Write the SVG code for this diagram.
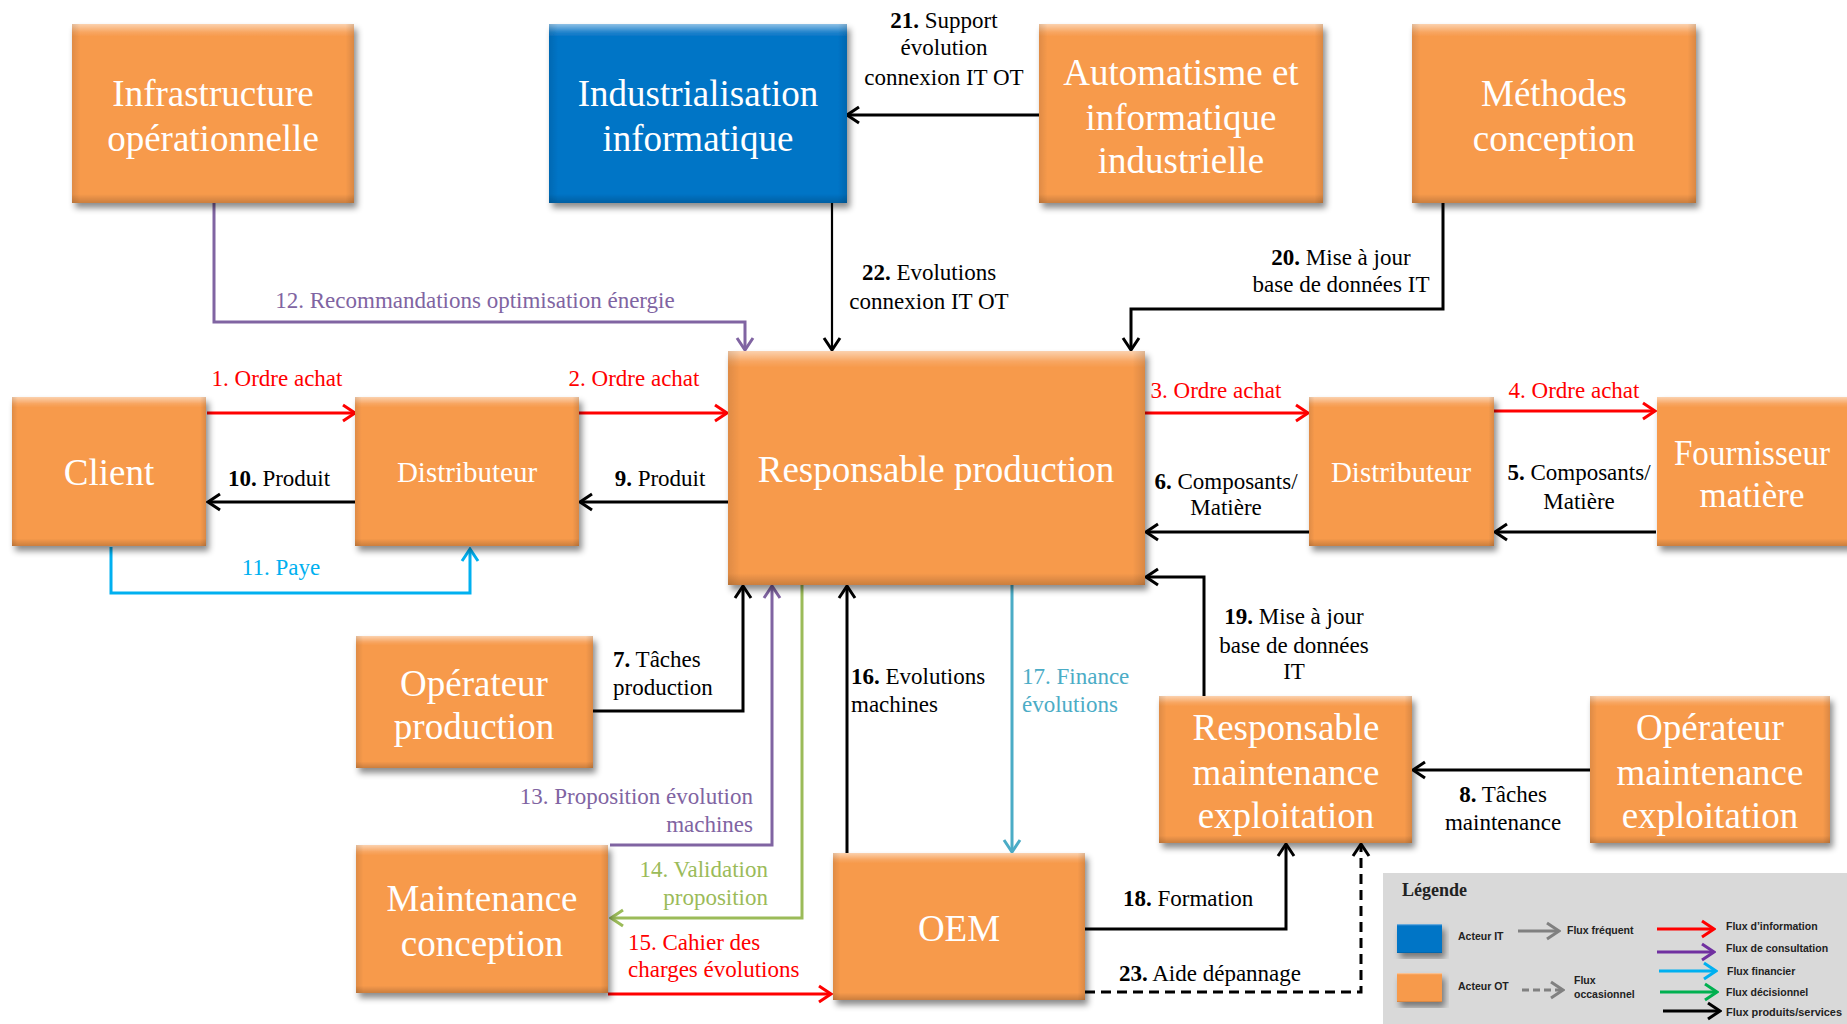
<svg xmlns="http://www.w3.org/2000/svg" width="1847" height="1024" viewBox="0 0 1847 1024">
<style>
.nt{font-family:"Liberation Serif","Times New Roman",serif;fill:#fff;font-size:37px;text-anchor:middle}
.lb{font-family:"Liberation Serif","Times New Roman",serif;font-size:23px;fill:#000}
.c{text-anchor:middle}
.r{text-anchor:end}
.n{font-weight:bold}
.lg{font-family:"Liberation Sans",Arial,sans-serif;font-size:10.5px;font-weight:bold;fill:#222}
.ln{fill:none;stroke-width:3}
.k{stroke:#000}
.red{stroke:#FF0000}
.pur{stroke:#8064A2}
.blu{stroke:#00B0F0}
.grn{stroke:#9BBB59}
.tea{stroke:#4BACC6}
</style>
<defs>
<filter id="sh" x="-10%" y="-10%" width="125%" height="130%"><feDropShadow dx="3" dy="5" stdDeviation="3" flood-color="#000" flood-opacity="0.45"/></filter>
<linearGradient id="bev" x1="0" y1="0" x2="0" y2="1">
<stop offset="0" stop-color="#fff" stop-opacity="0.55"/>
<stop offset="0.045" stop-color="#fff" stop-opacity="0.12"/>
<stop offset="0.07" stop-color="#fff" stop-opacity="0"/>
<stop offset="0.95" stop-color="#000" stop-opacity="0"/>
<stop offset="1" stop-color="#000" stop-opacity="0.18"/>
</linearGradient>
<linearGradient id="bevh" x1="0" y1="0" x2="1" y2="0">
<stop offset="0" stop-color="#000" stop-opacity="0.1"/>
<stop offset="0.03" stop-color="#000" stop-opacity="0"/>
<stop offset="0.97" stop-color="#000" stop-opacity="0"/>
<stop offset="1" stop-color="#000" stop-opacity="0.12"/>
</linearGradient>
<marker id="mk" viewBox="0 0 16 20" refX="14" refY="10" markerWidth="16" markerHeight="20" orient="auto" markerUnits="userSpaceOnUse"><path d="M2,2 L14,10 L2,18" fill="none" stroke="#000" stroke-width="3"/></marker>
<marker id="mr" viewBox="0 0 16 20" refX="14" refY="10" markerWidth="16" markerHeight="20" orient="auto" markerUnits="userSpaceOnUse"><path d="M2,2 L14,10 L2,18" fill="none" stroke="#FF0000" stroke-width="3"/></marker>
<marker id="mp" viewBox="0 0 16 20" refX="14" refY="10" markerWidth="16" markerHeight="20" orient="auto" markerUnits="userSpaceOnUse"><path d="M2,2 L14,10 L2,18" fill="none" stroke="#8064A2" stroke-width="3"/></marker>
<marker id="mb" viewBox="0 0 16 20" refX="14" refY="10" markerWidth="16" markerHeight="20" orient="auto" markerUnits="userSpaceOnUse"><path d="M2,2 L14,10 L2,18" fill="none" stroke="#00B0F0" stroke-width="3"/></marker>
<marker id="mg" viewBox="0 0 16 20" refX="14" refY="10" markerWidth="16" markerHeight="20" orient="auto" markerUnits="userSpaceOnUse"><path d="M2,2 L14,10 L2,18" fill="none" stroke="#9BBB59" stroke-width="3"/></marker>
<marker id="mt" viewBox="0 0 16 20" refX="14" refY="10" markerWidth="16" markerHeight="20" orient="auto" markerUnits="userSpaceOnUse"><path d="M2,2 L14,10 L2,18" fill="none" stroke="#4BACC6" stroke-width="3"/></marker>
<marker id="mgr" viewBox="0 0 16 20" refX="14" refY="10" markerWidth="16" markerHeight="20" orient="auto" markerUnits="userSpaceOnUse"><path d="M2,2 L14,10 L2,18" fill="none" stroke="#808080" stroke-width="3"/></marker>
<marker id="lr" viewBox="0 0 16 20" refX="14" refY="10" markerWidth="16" markerHeight="20" orient="auto" markerUnits="userSpaceOnUse"><path d="M2,2 L14,10 L2,18" fill="none" stroke="#FF0000" stroke-width="3"/></marker>
<marker id="lp" viewBox="0 0 16 20" refX="14" refY="10" markerWidth="16" markerHeight="20" orient="auto" markerUnits="userSpaceOnUse"><path d="M2,2 L14,10 L2,18" fill="none" stroke="#7030A0" stroke-width="3"/></marker>
<marker id="lb" viewBox="0 0 16 20" refX="14" refY="10" markerWidth="16" markerHeight="20" orient="auto" markerUnits="userSpaceOnUse"><path d="M2,2 L14,10 L2,18" fill="none" stroke="#00B0F0" stroke-width="3"/></marker>
<marker id="lg" viewBox="0 0 16 20" refX="14" refY="10" markerWidth="16" markerHeight="20" orient="auto" markerUnits="userSpaceOnUse"><path d="M2,2 L14,10 L2,18" fill="none" stroke="#00B050" stroke-width="3"/></marker>
</defs>
<rect width="1847" height="1024" fill="#fff"/>

<g id="connectors">
<path class="ln red" d="M207,413 H355" marker-end="url(#mr)"/>
<path class="ln red" d="M579,413 H727" marker-end="url(#mr)"/>
<path class="ln red" d="M1145,413 H1308" marker-end="url(#mr)"/>
<path class="ln red" d="M1494,411 H1655" marker-end="url(#mr)"/>
<path class="ln k" d="M1656,532 H1495" marker-end="url(#mk)"/>
<path class="ln k" d="M1309,532 H1146" marker-end="url(#mk)"/>
<path class="ln k" d="M593,711 H743 V586" marker-end="url(#mk)"/>
<path class="ln k" d="M1590,770 H1413" marker-end="url(#mk)"/>
<path class="ln k" d="M728,502 H580" marker-end="url(#mk)"/>
<path class="ln k" d="M355,502 H208" marker-end="url(#mk)"/>
<path class="ln blu" d="M111,547 V593 H470 V549" marker-end="url(#mb)"/>
<path class="ln pur" d="M214,203 V322 H745 V350" marker-end="url(#mp)"/>
<path class="ln pur" d="M610,845 H772 V586" marker-end="url(#mp)"/>
<path class="ln grn" d="M802,585 V918 H611" marker-end="url(#mg)"/>
<path class="ln red" d="M608,994 H831" marker-end="url(#mr)"/>
<path class="ln k" d="M847,853 V586" marker-end="url(#mk)"/>
<path class="ln tea" d="M1012,585 V852" marker-end="url(#mt)"/>
<path class="ln k" d="M1085,929 H1286 V844" marker-end="url(#mk)"/>
<path class="ln k" d="M1204,696 V577 H1146" marker-end="url(#mk)"/>
<path class="ln k" d="M1443,203 V309 H1131 V350" marker-end="url(#mk)"/>
<path class="ln k" d="M1039,115 H847" marker-end="url(#mk)"/>
<path class="k" fill="none" stroke-width="2.2" d="M832,203 V350" marker-end="url(#mk)"/>
<path class="ln k" stroke-dasharray="10,6" d="M1085,992 H1361 V844" marker-end="url(#mk)"/>
</g>

<g id="labels">
<text class="lb c" x="277" y="386" style="fill:#FF0000">1. Ordre achat</text>
<text class="lb c" x="634" y="386" style="fill:#FF0000">2. Ordre achat</text>
<text class="lb c" x="1216" y="398" style="fill:#FF0000">3. Ordre achat</text>
<text class="lb c" x="1574" y="398" style="fill:#FF0000">4. Ordre achat</text>
<text class="lb c" x="279" y="486"><tspan class="n">10.</tspan> Produit</text>
<text class="lb c" x="660" y="486"><tspan class="n">9.</tspan> Produit</text>
<text class="lb c" x="281" y="575" style="fill:#00B0F0">11. Paye</text>
<text class="lb c" x="475" y="308" style="fill:#8064A2">12. Recommandations optimisation énergie</text>
<text class="lb c" x="1226" y="489"><tspan class="n">6.</tspan> Composants/</text>
<text class="lb c" x="1226" y="515">Matière</text>
<text class="lb c" x="1579" y="480"><tspan class="n">5.</tspan> Composants/</text>
<text class="lb c" x="1579" y="509">Matière</text>
<text class="lb" x="613" y="667"><tspan class="n">7.</tspan> Tâches</text>
<text class="lb" x="613" y="695">production</text>
<text class="lb r" x="753" y="804" style="fill:#8064A2">13. Proposition évolution</text>
<text class="lb r" x="753" y="832" style="fill:#8064A2">machines</text>
<text class="lb r" x="768" y="877" style="fill:#9BBB59">14. Validation</text>
<text class="lb r" x="768" y="905" style="fill:#9BBB59">proposition</text>
<text class="lb" x="628" y="950" style="fill:#FF0000">15. Cahier des</text>
<text class="lb" x="628" y="977" style="fill:#FF0000">charges évolutions</text>
<text class="lb" x="851" y="684"><tspan class="n">16.</tspan> Evolutions</text>
<text class="lb" x="851" y="712">machines</text>
<text class="lb" x="1022" y="684" style="fill:#4BACC6">17. Finance</text>
<text class="lb" x="1022" y="712" style="fill:#4BACC6">évolutions</text>
<text class="lb" x="1123" y="906"><tspan class="n">18.</tspan> Formation</text>
<text class="lb" x="1119" y="981"><tspan class="n">23.</tspan> Aide dépannage</text>
<text class="lb c" x="1294" y="624"><tspan class="n">19.</tspan>  Mise à jour</text>
<text class="lb c" x="1294" y="653">base de données</text>
<text class="lb c" x="1294" y="679">IT</text>
<text class="lb c" x="1503" y="802"><tspan class="n">8.</tspan> Tâches</text>
<text class="lb c" x="1503" y="830">maintenance</text>
<text class="lb c" x="1341" y="265"><tspan class="n">20.</tspan> Mise à jour</text>
<text class="lb c" x="1341" y="292">base de données IT</text>
<text class="lb c" x="944" y="28"><tspan class="n">21.</tspan> Support</text>
<text class="lb c" x="944" y="55">évolution</text>
<text class="lb c" x="944" y="85">connexion IT OT</text>
<text class="lb c" x="929" y="280"><tspan class="n">22.</tspan> Evolutions</text>
<text class="lb c" x="929" y="309">connexion IT OT</text>
</g>

<g id="infra"><g filter="url(#sh)"><rect x="72" y="24" width="282" height="179" fill="#F79A4C"/><rect x="72" y="24" width="282" height="179" fill="url(#bev)"/><rect x="72" y="24" width="282" height="179" fill="url(#bevh)"/></g>
<text class="nt" x="213" y="106">Infrastructure</text><text class="nt" x="213" y="151">opérationnelle</text></g>

<g id="indus"><g filter="url(#sh)"><rect x="549" y="24" width="298" height="179" fill="#0574C6"/><rect x="549" y="24" width="298" height="179" fill="url(#bev)"/><rect x="549" y="24" width="298" height="179" fill="url(#bevh)"/></g>
<text class="nt" x="698" y="106">Industrialisation</text><text class="nt" x="698" y="151">informatique</text></g>

<g id="auto"><g filter="url(#sh)"><rect x="1039" y="24" width="284" height="179" fill="#F79A4C"/><rect x="1039" y="24" width="284" height="179" fill="url(#bev)"/><rect x="1039" y="24" width="284" height="179" fill="url(#bevh)"/></g>
<text class="nt" x="1181" y="85">Automatisme et</text><text class="nt" x="1181" y="130">informatique</text><text class="nt" x="1181" y="173">industrielle</text></g>

<g id="methodes"><g filter="url(#sh)"><rect x="1412" y="24" width="284" height="179" fill="#F79A4C"/><rect x="1412" y="24" width="284" height="179" fill="url(#bev)"/><rect x="1412" y="24" width="284" height="179" fill="url(#bevh)"/></g>
<text class="nt" x="1554" y="106">Méthodes</text><text class="nt" x="1554" y="151">conception</text></g>

<g id="client"><g filter="url(#sh)"><rect x="12" y="397" width="194" height="149" fill="#F79A4C"/><rect x="12" y="397" width="194" height="149" fill="url(#bev)"/><rect x="12" y="397" width="194" height="149" fill="url(#bevh)"/></g>
<text class="nt" x="109" y="485">Client</text></g>

<g id="distrib1"><g filter="url(#sh)"><rect x="355" y="397" width="224" height="149" fill="#F79A4C"/><rect x="355" y="397" width="224" height="149" fill="url(#bev)"/><rect x="355" y="397" width="224" height="149" fill="url(#bevh)"/></g>
<text class="nt" x="467" y="482" style="font-size:29px">Distributeur</text></g>

<g id="respprod"><g filter="url(#sh)"><rect x="728" y="351" width="417" height="234" fill="#F79A4C"/><rect x="728" y="351" width="417" height="234" fill="url(#bev)"/><rect x="728" y="351" width="417" height="234" fill="url(#bevh)"/></g>
<text class="nt" x="936" y="482">Responsable production</text></g>

<g id="distrib2"><g filter="url(#sh)"><rect x="1309" y="397" width="185" height="149" fill="#F79A4C"/><rect x="1309" y="397" width="185" height="149" fill="url(#bev)"/><rect x="1309" y="397" width="185" height="149" fill="url(#bevh)"/></g>
<text class="nt" x="1401" y="482" style="font-size:29px">Distributeur</text></g>

<g id="fournisseur"><g filter="url(#sh)"><rect x="1657" y="397" width="210" height="149" fill="#F79A4C"/><rect x="1657" y="397" width="210" height="149" fill="url(#bev)"/></g>
<text class="nt" x="1752" y="465" style="font-size:35px" textLength="156" lengthAdjust="spacingAndGlyphs">Fournisseur</text><text class="nt" x="1752" y="507" style="font-size:35px">matière</text></g>

<g id="opprod"><g filter="url(#sh)"><rect x="356" y="636" width="237" height="132" fill="#F79A4C"/><rect x="356" y="636" width="237" height="132" fill="url(#bev)"/><rect x="356" y="636" width="237" height="132" fill="url(#bevh)"/></g>
<text class="nt" x="474" y="696">Opérateur</text><text class="nt" x="474" y="739">production</text></g>

<g id="maintconc"><g filter="url(#sh)"><rect x="356" y="845" width="252" height="148" fill="#F79A4C"/><rect x="356" y="845" width="252" height="148" fill="url(#bev)"/><rect x="356" y="845" width="252" height="148" fill="url(#bevh)"/></g>
<text class="nt" x="482" y="911">Maintenance</text><text class="nt" x="482" y="956">conception</text></g>

<g id="oem"><g filter="url(#sh)"><rect x="833" y="853" width="252" height="147" fill="#F79A4C"/><rect x="833" y="853" width="252" height="147" fill="url(#bev)"/><rect x="833" y="853" width="252" height="147" fill="url(#bevh)"/></g>
<text class="nt" x="959" y="941">OEM</text></g>

<g id="respmaint"><g filter="url(#sh)"><rect x="1159" y="696" width="253" height="147" fill="#F79A4C"/><rect x="1159" y="696" width="253" height="147" fill="url(#bev)"/><rect x="1159" y="696" width="253" height="147" fill="url(#bevh)"/></g>
<text class="nt" x="1286" y="740">Responsable</text><text class="nt" x="1286" y="785">maintenance</text><text class="nt" x="1286" y="828">exploitation</text></g>

<g id="opmaint"><g filter="url(#sh)"><rect x="1590" y="696" width="240" height="147" fill="#F79A4C"/><rect x="1590" y="696" width="240" height="147" fill="url(#bev)"/><rect x="1590" y="696" width="240" height="147" fill="url(#bevh)"/></g>
<text class="nt" x="1710" y="740">Opérateur</text><text class="nt" x="1710" y="785">maintenance</text><text class="nt" x="1710" y="828">exploitation</text></g>

<g id="legende">
<rect x="1383" y="873" width="464" height="151" fill="#D9D9D9"/>
<text x="1402" y="896" style="font-family:'Liberation Serif',serif;font-weight:bold;font-size:18px;fill:#222">Légende</text>
<g filter="url(#sh)"><rect x="1397" y="924" width="45" height="29" fill="#0574C6"/><rect x="1397" y="924" width="45" height="29" fill="url(#bev)"/></g>
<g filter="url(#sh)"><rect x="1397" y="973" width="45" height="29" fill="#F79A4C"/><rect x="1397" y="973" width="45" height="29" fill="url(#bev)"/></g>
<text class="lg" x="1458" y="940">Acteur IT</text>
<text class="lg" x="1458" y="990">Acteur OT</text>
<path fill="none" stroke="#808080" stroke-width="3" d="M1518,931 H1559" marker-end="url(#mgr)"/>
<path fill="none" stroke="#808080" stroke-width="3" stroke-dasharray="7,4" d="M1522,990 H1563" marker-end="url(#mgr)"/>
<text class="lg" x="1567" y="934">Flux fréquent</text>
<text class="lg" x="1574" y="984">Flux</text>
<text class="lg" x="1574" y="998">occasionnel</text>
<path fill="none" stroke="#FF0000" stroke-width="3" d="M1657,929 H1714" marker-end="url(#lr)"/>
<path fill="none" stroke="#7030A0" stroke-width="3" d="M1657,952 H1714" marker-end="url(#lp)"/>
<path fill="none" stroke="#00B0F0" stroke-width="3" d="M1659,971 H1716" marker-end="url(#lb)"/>
<path fill="none" stroke="#00B050" stroke-width="3" d="M1660,992 H1717" marker-end="url(#lg)"/>
<path fill="none" stroke="#000" stroke-width="3" d="M1663,1011 H1720" marker-end="url(#mk)"/>
<text class="lg" x="1726" y="930">Flux d’information</text>
<text class="lg" x="1726" y="952">Flux de consultation</text>
<text class="lg" x="1727" y="975">Flux financier</text>
<text class="lg" x="1726" y="996">Flux décisionnel</text>
<text class="lg" x="1726" y="1016" textLength="116" lengthAdjust="spacingAndGlyphs">Flux produits/services</text>
</g>
</svg>
